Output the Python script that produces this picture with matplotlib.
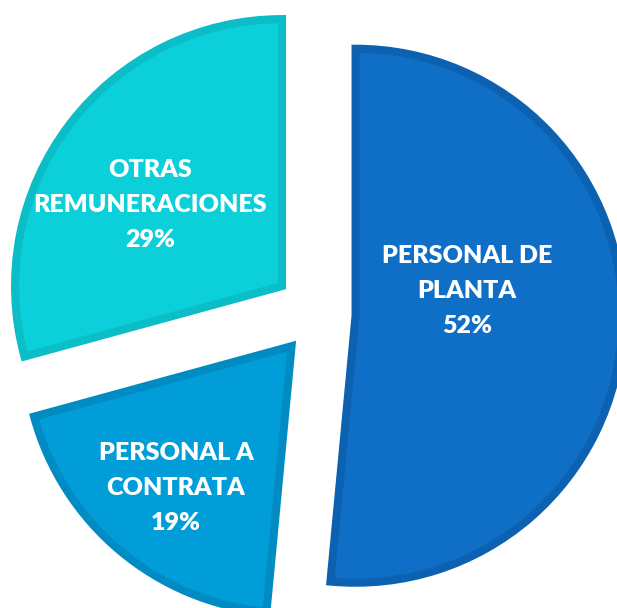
import matplotlib
matplotlib.use("Agg")
import matplotlib.pyplot as plt

# data
categories = ["PERSONAL DE\nPLANTA", "PERSONAL A\nCONTRATA", "OTRAS\nREMUNERACIONES"]
shares = [51.5, 19.25, 29.25]
colors = ["#0F6FC6", "#009DD9", "#0BD0D9"]
edge_colors = ["#0C62B0", "#008CC2", "#0ABDC6"]

# pull-out distance of each slice, in pixels
explode = [37, 42, 46]

# label spots in pixel units (image y measured from the top)
label_xy = [(467, 291), (176, 488), (150, 205)]

W, H = 617, 608
fig = plt.figure(figsize=(W / 100, H / 100), dpi=100)
ax = fig.add_axes([0, 0, 1, 1])

wedges, _ = ax.pie(shares, explode=explode, colors=colors, startangle=90,
                   counterclock=False, radius=267, center=(318.6, H - 314),
                   frame=True,
                   wedgeprops=dict(linewidth=5.8, joinstyle="miter"))
for w, ec in zip(wedges, edge_colors):
    w.set_edgecolor(ec)
ax.set_xlim(0, W)
ax.set_ylim(0, H)
ax.set_aspect("equal")
ax.axis("off")

for name, val, (x, y) in zip(categories, shares, label_xy):
    ax.text(x, H - y, "%s\n%.0f%%" % (name, val), ha="center", va="center",
            color="white", fontsize=18, fontweight="heavy", family="Lato",
            linespacing=1.72)

fig.savefig("out.png", dpi=100)
